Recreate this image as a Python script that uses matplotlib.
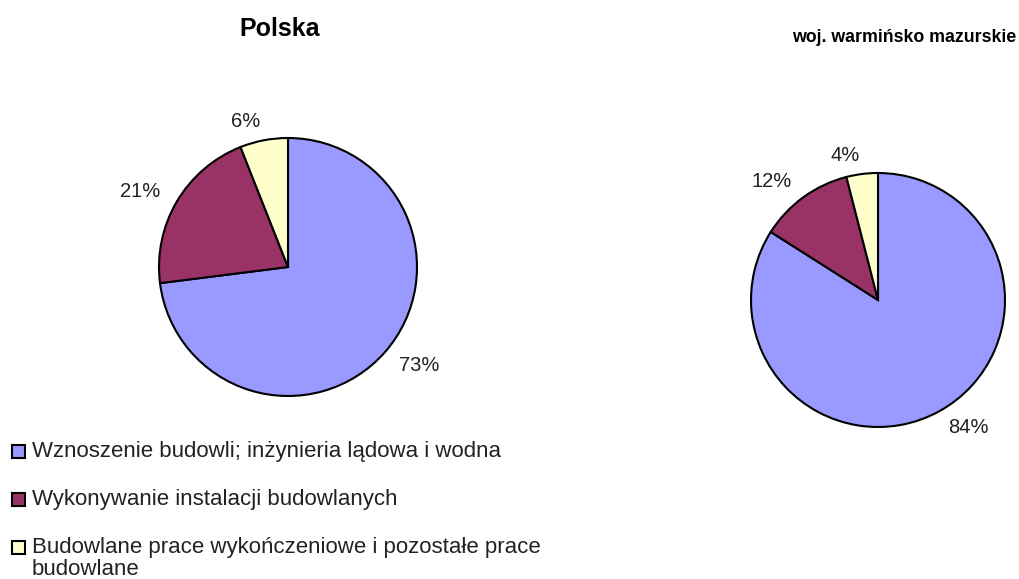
import matplotlib
matplotlib.use("Agg")
import matplotlib.pyplot as plt
from matplotlib.patches import Rectangle

plt.rcParams['font.family'] = ['Liberation Sans', 'DejaVu Sans']

categories = ["Wznoszenie budowli; inżynieria lądowa i wodna",
              "Wykonywanie instalacji budowlanych",
              "Budowlane prace wykończeniowe i pozostałe prace\nbudowlane"]
polska = [73, 21, 6]
warminsko = [84, 12, 4]
titles = ["Polska", "woj. warmińsko mazurskie"]
colors = ["#9999FF", "#993366", "#FFFFCC"]

W, H = 1019, 579
fig = plt.figure(figsize=(W / 100, H / 100), dpi=100)


def pie_axes(cx, cy, r):
    # pixel centre / radius -> figure fraction box
    return fig.add_axes([(cx - r) / W, 1 - (cy + r) / H, 2 * r / W, 2 * r / H])


def draw_pie(ax, values):
    wedges, texts = ax.pie(values, colors=colors, startangle=90, counterclock=False,
                           labels=["%d%%" % v for v in values], labeldistance=1.15,
                           radius=1, wedgeprops=dict(edgecolor="black", linewidth=1.5),
                           textprops=dict(fontsize=14.5, color="#222222"))
    ax.set_xlim(-1, 1)
    ax.set_ylim(-1, 1)
    ax.axis("off")
    return wedges


ax1 = pie_axes(288, 267, 129)
draw_pie(ax1, polska)
ax2 = pie_axes(878, 300, 127)
draw_pie(ax2, warminsko)

fig.text(280 / W, 1 - 36 / H, titles[0], ha="center", va="baseline",
         fontsize=18, fontweight="bold")
fig.text(1016 / W, 1 - 42 / H, titles[1], ha="right", va="baseline",
         fontsize=12.8, fontweight="bold")

# legend drawn by hand so the square sits on the first line of a wrapped label
for i, (lab, col) in enumerate(zip(categories, colors)):
    yc = 451 + 48 * i
    fig.add_artist(Rectangle((12 / W, 1 - (yc + 6.5) / H), 13 / W, 13 / H,
                             transform=fig.transFigure, facecolor=col,
                             edgecolor="black", linewidth=1.5))
    fig.text(32 / W, 1 - (yc - 10) / H, lab, ha="left", va="top",
             fontsize=16, color="#222222", linespacing=1.05)

fig.savefig("out.png", dpi=100)
